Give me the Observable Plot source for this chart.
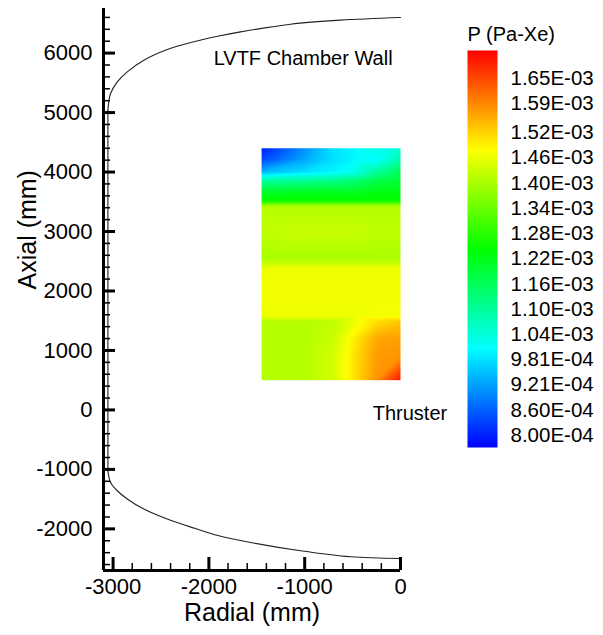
<!DOCTYPE html>
<html><head><meta charset="utf-8">
<script src="https://cdn.jsdelivr.net/npm/d3@7"></script>
<script src="https://cdn.jsdelivr.net/npm/@observablehq/plot@0.6"></script>
<style>
body{margin:0;background:#fff;}
#wrap{position:relative;width:603px;height:635px;background:#fff;}
</style></head><body><div id="wrap"></div>
<script>
const FONT = '"Liberation Sans", Arial, Helvetica, sans-serif';

// Chamber wall outline (radial mm, axial mm)
const upperWallRadial = [0, -626, -1148, -1670, -1896, -2157, -2434, -2679, -2852, -2956, -3026, -3054];
const upperWallAxial  = [6599, 6554, 6486, 6357, 6287, 6190, 6060, 5880, 5684, 5515, 5320, 5039];
const sideWallRadial  = [-3054, -3054];
const sideWallAxial   = [5039, -1021];
const lowerWallRadial = [-3054, -3026, -2956, -2852, -2679, -2434, -2157, -1896, -1565, -1043, -522, 0];
const lowerWallAxial  = [-1021, -1219, -1359, -1498, -1667, -1835, -1987, -2116, -2229, -2369, -2470, -2498];

// Pressure field grid
const fieldRadial = [-1450, -1000, -700, -500, -250, 0];
const fieldAxial  = [4400, 4200, 4000, 3850, 3650, 3520, 3420, 3000, 2560, 2460, 2380, 2000, 1580, 1480, 1200, 900, 500];
const pressure = [
  [8.0e-4, 9.05e-4, 9.8e-4, 1.00e-3, 1.03e-3, 1.05e-3],
  [8.4e-4, 9.3e-4, 9.8e-4, 1.00e-3, 1.01e-3, 1.09e-3],
  [9.4e-4, 9.8e-4, 1.00e-3, 1.02e-3, 1.10e-3, 1.17e-3],
  [1.10e-3, 1.11e-3, 1.12e-3, 1.14e-3, 1.18e-3, 1.20e-3],
  [1.21e-3, 1.22e-3, 1.22e-3, 1.22e-3, 1.23e-3, 1.23e-3],
  [1.25e-3, 1.25e-3, 1.25e-3, 1.25e-3, 1.25e-3, 1.25e-3],
  [1.41e-3, 1.41e-3, 1.41e-3, 1.41e-3, 1.41e-3, 1.41e-3],
  [1.42e-3, 1.43e-3, 1.43e-3, 1.43e-3, 1.42e-3, 1.42e-3],
  [1.40e-3, 1.40e-3, 1.40e-3, 1.40e-3, 1.40e-3, 1.40e-3],
  [1.43e-3, 1.43e-3, 1.43e-3, 1.43e-3, 1.43e-3, 1.43e-3],
  [1.465e-3, 1.465e-3, 1.465e-3, 1.465e-3, 1.465e-3, 1.465e-3],
  [1.468e-3, 1.468e-3, 1.468e-3, 1.468e-3, 1.468e-3, 1.468e-3],
  [1.465e-3, 1.465e-3, 1.465e-3, 1.465e-3, 1.47e-3, 1.47e-3],
  [1.41e-3, 1.41e-3, 1.42e-3, 1.46e-3, 1.51e-3, 1.53e-3],
  [1.41e-3, 1.41e-3, 1.43e-3, 1.49e-3, 1.56e-3, 1.57e-3],
  [1.41e-3, 1.41e-3, 1.44e-3, 1.50e-3, 1.57e-3, 1.58e-3],
  [1.41e-3, 1.41e-3, 1.44e-3, 1.50e-3, 1.58e-3, 1.70e-3]
];

// Axis ticks
const xMajor = [-3000, -2000, -1000, 0];
const yMajor = [-2000, -1000, 0, 1000, 2000, 3000, 4000, 5000, 6000];
const xMinor = d3.range(-3000, 1, 200).filter(d => d % 1000 !== 0);
const yMinor = d3.range(-2600, 6601, 200).filter(d => d % 1000 !== 0);

// Colour legend
const cbTitle = "P (Pa-Xe)";
const cbLabels = ["8.00E-04", "8.60E-04", "9.21E-04", "9.81E-04", "1.04E-03", "1.10E-03", "1.16E-03",
                  "1.22E-03", "1.28E-03", "1.34E-03", "1.40E-03", "1.46E-03", "1.52E-03", "1.59E-03", "1.65E-03"];
const cbValues = cbLabels.map(Number);

const annotations = [
  {text: "LVTF Chamber Wall", r: -1950, a: 5900},
  {text: "Thruster", r: -290, a: -59}
];
const xLabel = "Radial (mm)";
const yLabel = "Axial (mm)";

// build tables
const fieldData = [];
fieldAxial.forEach((a, i) => fieldRadial.forEach((r, j) => fieldData.push({r, a, p: pressure[i][j]})));
const wallData = [
  ...upperWallRadial.map((r, i) => ({part: "upper", r, a: upperWallAxial[i]})),
  ...sideWallRadial.map((r, i) => ({part: "side", r, a: sideWallAxial[i]})),
  ...lowerWallRadial.map((r, i) => ({part: "lower", r, a: lowerWallAxial[i]}))
];

const vmin = 7.715e-4, vmax = 1.7154e-3;
const rainbow = ["#0000ff", "#00ffff", "#00ff00", "#ffff00", "#ff0000"];
const colorScale = {type: "linear", domain: rainbow.map((_, i) => vmin + i * (vmax - vmin) / 4), range: rainbow, clamp: true};

const [fx1, fx2] = d3.extent(fieldRadial);
const [fy1, fy2] = d3.extent(fieldAxial);

const W = 603, H = 635, ML = 103, MR = 203, MT = 8, MB = 65;
const frameW = W - ML - MR, frameH = H - MT - MB;

const main = Plot.plot({
  width: W, height: H,
  marginLeft: ML, marginRight: MR, marginTop: MT, marginBottom: MB,
  style: {background: "transparent", fontFamily: FONT, overflow: "visible", color: "#000"},
  x: {domain: [-3100, 0], axis: null},
  y: {domain: [-2700, 6750], axis: null},
  color: colorScale,
  marks: [
    Plot.raster(fieldData, {x: "r", y: "a", fill: "p", x1: fx1, x2: fx2, y1: fy1, y2: fy2, interpolate: "barycentric"}),
    Plot.line(wallData, {x: "r", y: "a", z: "part", curve: "catmull-rom", stroke: "#222", strokeWidth: 1.1}),
    // inward tick marks
    Plot.tickX(xMinor, {x: d => d, insetTop: frameH - 7, strokeWidth: 1.5}),
    Plot.tickX(xMajor, {x: d => d, insetTop: frameH - 13, strokeWidth: 3}),
    Plot.tickY(yMinor, {y: d => d, insetRight: frameW - 7, strokeWidth: 1.5}),
    Plot.tickY(yMajor, {y: d => d, insetRight: frameW - 12, strokeWidth: 3}),
    // tick labels
    Plot.axisX({ticks: xMajor, tickSize: 0, tickPadding: 8, fontSize: 22, tickFormat: d => String(d), label: null}),
    Plot.axisY({ticks: yMajor, tickSize: 0, tickPadding: 11, fontSize: 22, tickFormat: d => String(d), label: null}),
    Plot.ruleX([-3100], {strokeWidth: 3}),
    Plot.ruleY([-2700], {strokeWidth: 3}),
    Plot.text(annotations, {x: "r", y: "a", text: "text", textAnchor: "start", fontSize: 20}),
    Plot.text([xLabel], {frameAnchor: "bottom", dy: 42, fontSize: 25, lineAnchor: "middle"}),
    Plot.text([yLabel], {frameAnchor: "left", dx: -76, rotate: -90, fontSize: 25, lineAnchor: "middle"})
  ]
});

const cb = Plot.plot({
  width: 173, height: 635,
  marginLeft: 37, marginRight: 106, marginTop: 50, marginBottom: 188,
  style: {background: "transparent", fontFamily: FONT, overflow: "visible", color: "#000"},
  x: {domain: [0, 1], axis: null},
  y: {domain: [vmin, vmax], axis: null},
  color: colorScale,
  marks: [
    Plot.raster({fill: (x, y) => y, x1: 0, x2: 1, y1: vmin, y2: vmax}),
    Plot.text(cbValues, {x: 1, y: d => d, text: (d, i) => cbLabels[i], dx: 13, textAnchor: "start", fontSize: 20.5}),
    Plot.text([cbTitle], {frameAnchor: "top-left", dy: -16, textAnchor: "start", lineAnchor: "middle", fontSize: 20})
  ]
});

const wrap = document.getElementById("wrap");
for (const [svg, left] of [[main, 0], [cb, 430]]) {
  svg.style.position = "absolute";
  svg.style.left = left + "px";
  svg.style.top = "0px";
  wrap.appendChild(svg);
}
</script></body></html>
